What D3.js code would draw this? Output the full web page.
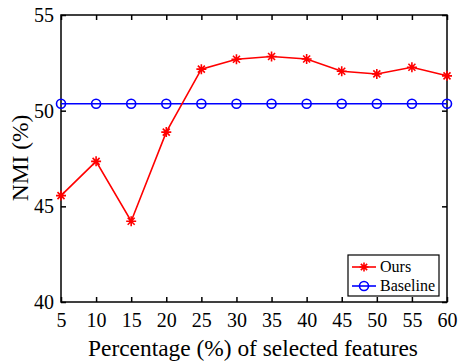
<!DOCTYPE html>
<html>
<head>
<meta charset="utf-8">
<script src="https://cdn.jsdelivr.net/npm/d3@7"></script>
<style>
  body { margin: 0; background: #fff; }
  text { font-family: "Liberation Serif", "Times New Roman", serif; }
</style>
</head>
<body>
<svg id="chart"></svg>
<script>
const percentages = [5, 10, 15, 20, 25, 30, 35, 40, 45, 50, 55, 60];
const oursValues = [45.56, 47.35, 44.22, 48.88, 52.17, 52.69, 52.83, 52.70, 52.06, 51.92, 52.27, 51.82];
const baselineValues = [50.36, 50.36, 50.36, 50.36, 50.36, 50.36, 50.36, 50.36, 50.36, 50.36, 50.36, 50.36];
const yTicks = [40, 45, 50, 55];

const width = 458, height = 363;
const margin = { top: 15, right: 11, bottom: 61, left: 61 };
const w = width - margin.left - margin.right;
const h = height - margin.top - margin.bottom;

const svg = d3.select("#chart").attr("width", width).attr("height", height);
const g = svg.append("g").attr("transform", `translate(${margin.left},${margin.top})`);

const x = d3.scaleLinear().domain([5, 60]).range([0, w]);
const y = d3.scaleLinear().domain([40, 55]).range([h, 0]);

// axes with inward ticks on all four sides
function styleAxis(sel) {
    sel.select(".domain").remove();
    sel.selectAll("line").attr("stroke", "#000").attr("stroke-width", 1.5);
    sel.selectAll("text").style("font-size", "20px").attr("fill", "#000");
}

g.append("g").attr("transform", `translate(0,${h})`)
    .call(d3.axisBottom(x).tickValues(percentages).tickSize(-5).tickPadding(11))
    .call(styleAxis);
g.append("g").call(d3.axisTop(x).tickValues(percentages).tickSize(-5).tickFormat(""))
    .call(styleAxis);
g.append("g")
    .call(d3.axisLeft(y).tickValues(yTicks).tickSize(-5).tickPadding(7))
    .call(styleAxis);
g.append("g").attr("transform", `translate(${w},0)`)
    .call(d3.axisRight(y).tickValues(yTicks).tickSize(-5).tickFormat(""))
    .call(styleAxis);

g.append("rect").attr("width", w).attr("height", h)
    .attr("fill", "none").attr("stroke", "#000").attr("stroke-width", 1.5);

const line = d3.line().x((d, i) => x(percentages[i])).y(d => y(d));

// baseline
g.append("path").datum(baselineValues).attr("d", line)
    .attr("fill", "none").attr("stroke", "#0000ff").attr("stroke-width", 1.6);
g.selectAll(".circ").data(baselineValues).enter().append("circle")
    .attr("cx", (d, i) => x(percentages[i])).attr("cy", d => y(d)).attr("r", 4.5)
    .attr("fill", "none").attr("stroke", "#0000ff").attr("stroke-width", 1.6);

// ours
function star(sel, s) {
    const a = s * 0.7;
    sel.append("path")
        .attr("d", `M${-s},0H${s}M0,${-s}V${s}M${-a},${-a}L${a},${a}M${-a},${a}L${a},${-a}`)
        .attr("stroke", "#ff0000").attr("stroke-width", 1.6).attr("fill", "none");
}
g.append("path").datum(oursValues).attr("d", line)
    .attr("fill", "none").attr("stroke", "#ff0000").attr("stroke-width", 1.6);
g.selectAll(".star").data(oursValues).enter().append("g")
    .attr("transform", (d, i) => `translate(${x(percentages[i])},${y(d)})`)
    .each(function() { star(d3.select(this), 5); });

// legend
const legend = svg.append("g").attr("transform", "translate(348,255)");
legend.append("rect").attr("width", 91).attr("height", 41)
    .attr("fill", "#fff").attr("stroke", "#000").attr("stroke-width", 1.2);
const entries = [
    { name: "Ours", color: "#ff0000", marker: "star" },
    { name: "Baseline", color: "#0000ff", marker: "circle" }
];
entries.forEach((e, i) => {
    const ey = 12 + i * 19;
    legend.append("line").attr("x1", 4).attr("x2", 28).attr("y1", ey).attr("y2", ey)
        .attr("stroke", e.color).attr("stroke-width", 1.6);
    if (e.marker === "star") {
        star(legend.append("g").attr("transform", `translate(16,${ey})`), 4.5);
    } else {
        legend.append("circle").attr("cx", 16).attr("cy", ey).attr("r", 4.5)
            .attr("fill", "none").attr("stroke", e.color).attr("stroke-width", 1.6);
    }
    legend.append("text").attr("x", 32).attr("y", ey + 5)
        .style("font-size", "16px").text(e.name);
});

// axis labels
svg.append("text")
    .attr("x", 253).attr("y", 356)
    .attr("text-anchor", "middle").style("font-size", "23.4px")
    .text("Percentage (%) of selected features");
svg.append("text")
    .attr("transform", `translate(28,158) rotate(-90)`)
    .attr("text-anchor", "middle").style("font-size", "23.4px")
    .text("NMI (%)");
</script>
</body>
</html>
